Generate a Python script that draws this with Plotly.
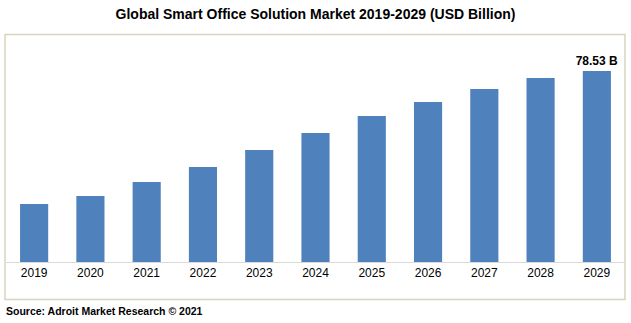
import plotly.graph_objects as go

years = ["2019", "2020", "2021", "2022", "2023", "2024", "2025", "2026", "2027", "2028", "2029"]
values = [23.85, 27.14, 32.9, 39.06, 46.05, 53.04, 60.03, 65.79, 71.13, 75.66, 78.53]
labels = ["", "", "", "", "", "", "", "", "", "", "<b>78.53 B</b>"]

W, H = 631, 323
L, R, T, B = 6, 6, 35, 61
pw = W - L - R
ph = H - T - B

fig = go.Figure(go.Bar(
    x=years, y=values, text=labels, textposition="outside", constraintext="none",
    textfont=dict(family="Liberation Sans", size=12, color="#000000"),
    marker=dict(color="#4F81BD", line=dict(width=0)),
    width=0.5, cliponaxis=False,
))

fig.update_layout(
    width=W, height=H,
    margin=dict(l=L, r=R, t=T, b=B),
    paper_bgcolor="white", plot_bgcolor="white",
    showlegend=False,
    title=dict(text="<b>Global Smart Office Solution Market 2019-2029 (USD Billion)</b>",
               x=0.5, xanchor="center", y=1 - 14 / H, yanchor="middle",
               font=dict(family="Liberation Sans Narrow, Liberation Sans", size=14, color="#000000")),
    xaxis=dict(showgrid=False, showline=True, linecolor="#D9D9D9", linewidth=1,
               ticks="", tickfont=dict(family="Liberation Sans", size=12, color="#000000"),
               fixedrange=True),
    yaxis=dict(range=[0, 93.35], visible=False, fixedrange=True),
    font=dict(family="Liberation Sans"),
)

fig.add_shape(type="rect", xref="paper", yref="paper",
              x0=(5 - L) / pw, x1=(625 - L) / pw,
              y0=(H - B - 299.5) / ph, y1=1 + 0.5 / ph,
              line=dict(color="#D9D3C1", width=1.5), fillcolor="rgba(0,0,0,0)", layer="below")

fig.add_annotation(text="<b>Source: Adroit Market Research © 2021</b>",
                   xref="paper", yref="paper", x=(4 - L) / pw, xanchor="left",
                   y=(H - B - 311) / ph, yanchor="middle", showarrow=False,
                   font=dict(family="Liberation Sans", size=10.5, color="#000000"))

fig.write_html("out.html")
